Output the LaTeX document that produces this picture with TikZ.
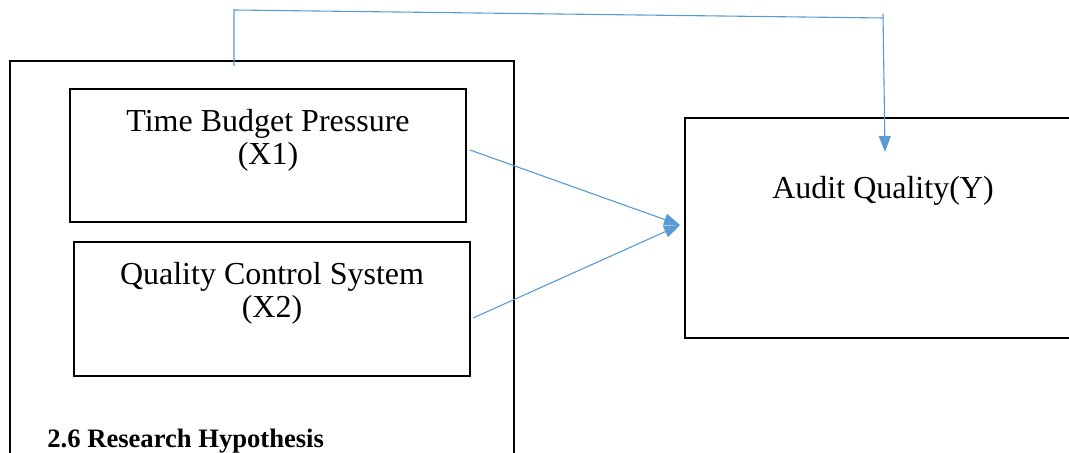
\documentclass[tikz,border=0pt]{standalone}
\usepackage{fontspec}
\setmainfont{Liberation Serif}
\usetikzlibrary{arrows.meta}
\definecolor{lineblue}{RGB}{91,155,213}
\tikzset{
  box/.style={draw=black, line width=1.1pt, rectangle, inner sep=0pt},
  lbl/.style={font=\fontsize{16}{16.5}\selectfont, align=center, inner sep=0pt},
  conn/.style={draw=lineblue, line width=0.55pt},
  tip/.style={-{Triangle[length=8pt,width=6pt]}, fill=lineblue}
}
\begin{document}
\begin{tikzpicture}[x=0.5pt,y=-0.5pt]
\clip (0,0) rectangle (1069,453);
% outer frame (bottom edge off the picture)
\node[box, minimum width=504*0.5pt, minimum height=410*0.5pt] (outer) at (262,266) {};
% inner boxes
\node[box, minimum width=396*0.5pt, minimum height=133*0.5pt] (x1) at (268,155.5) {};
\node[box, minimum width=396*0.5pt, minimum height=134*0.5pt] (x2) at (272,309) {};
% right box (right edge off the picture)
\node[box, minimum width=400*0.5pt, minimum height=220*0.5pt] (y) at (885,228) {};
% labels
\node[lbl, anchor=north] (x1t) at (268,109) {Time Budget Pressure\\(X1)};
\node[lbl, anchor=north] (x2t) at (272,262) {Quality Control System\\(X2)};
\node[lbl, anchor=base] (yt) at (883,199) {Audit Quality(Y)};
\node[anchor=base west, inner sep=0pt, font=\fontsize{13.3}{14}\selectfont\bfseries] (hyp) at (47,447) {2.6 Research Hypothesis};
% connector coordinates
\coordinate (a1) at (470,150);
\coordinate (a2) at (473,318);
\coordinate (yin) at (680,225);
\coordinate (s0) at (234,66);
\coordinate (s1) at (234,10);
\coordinate (s2) at (883,18);
\coordinate (t0) at (883,14);
\coordinate (t1) at (885,152);
% connectors
\draw[conn, tip] (a1) -- (yin);
\draw[conn, tip] (a2) -- (yin);
\draw[conn] (s0) -- (s1) -- (s2);
\draw[conn, tip] (t0) -- (t1);
\end{tikzpicture}
\end{document}
